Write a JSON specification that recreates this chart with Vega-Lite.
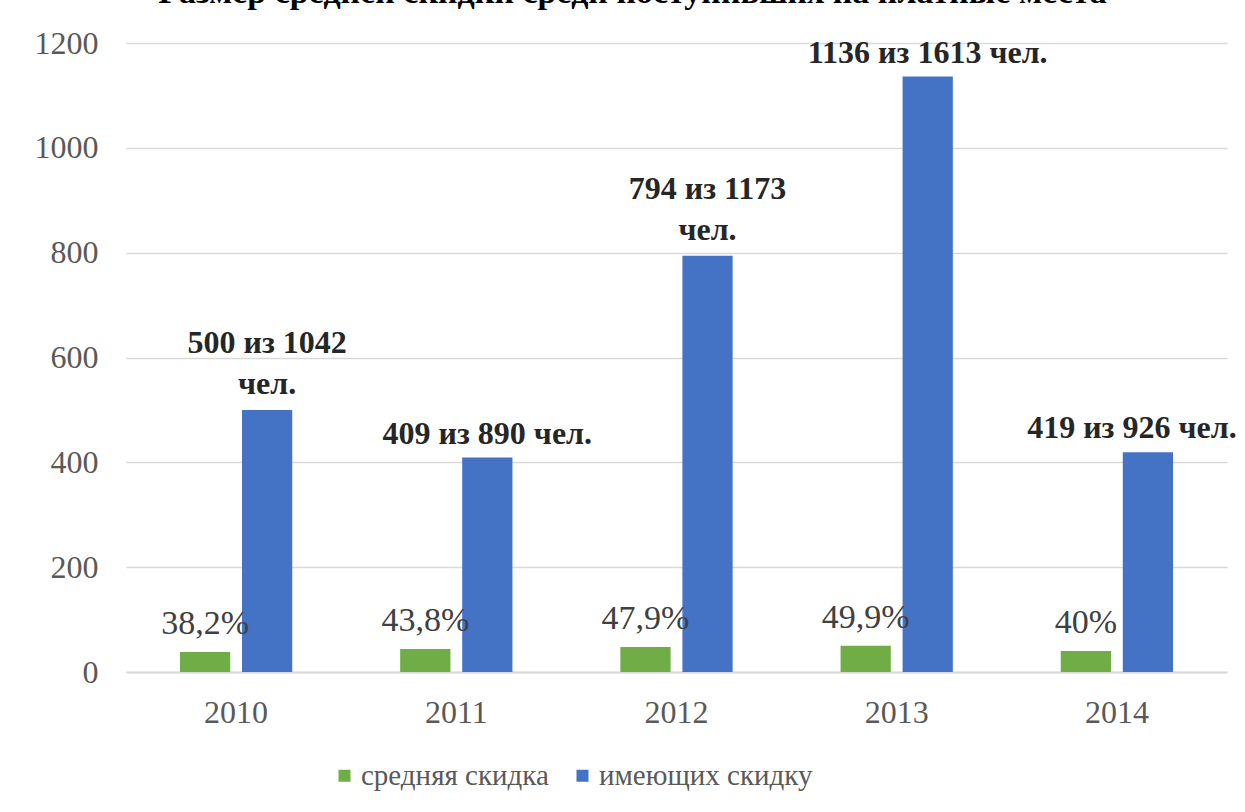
{
  "$schema": "https://vega.github.io/schema/vega-lite/v6.json",
  "width": 1101,
  "height": 629,
  "autosize": "none",
  "padding": {"left": 126, "top": 43, "right": 18, "bottom": 140},
  "background": "white",
  "title": {
    "text": "Размер средней скидки среди поступивших на платные места",
    "font": "Liberation Serif",
    "fontSize": 34,
    "fontWeight": "bold",
    "color": "#000000",
    "anchor": "middle",
    "frame": "group",
    "baseline": "alphabetic",
    "dx": -44,
    "offset": -10
  },
  "config": {
    "view": {"stroke": null},
    "font": "Liberation Serif",
    "axis": {"labelFont": "Liberation Serif", "labelColor": "#595959", "title": null}
  },
  "data": {
    "values": [
      {"year": "2010", "series": "средняя скидка", "value": 38.2, "label": "38,2%"},
      {"year": "2011", "series": "средняя скидка", "value": 43.8, "label": "43,8%"},
      {"year": "2012", "series": "средняя скидка", "value": 47.9, "label": "47,9%"},
      {"year": "2013", "series": "средняя скидка", "value": 49.9, "label": "49,9%"},
      {"year": "2014", "series": "средняя скидка", "value": 40, "label": "40%"},
      {"year": "2010", "series": "имеющих скидку", "value": 500, "label": "500 из 1042\nчел."},
      {"year": "2011", "series": "имеющих скидку", "value": 409, "label": "409 из 890 чел."},
      {"year": "2012", "series": "имеющих скидку", "value": 794, "label": "794 из 1173\nчел."},
      {"year": "2013", "series": "имеющих скидку", "value": 1136, "label": "1136 из 1613 чел."},
      {"year": "2014", "series": "имеющих скидку", "value": 419, "label": "419 из 926 чел."}
    ]
  },
  "encoding": {
    "x": {
      "field": "year",
      "type": "nominal",
      "scale": {"paddingInner": 0, "paddingOuter": 0},
      "axis": {
        "labelAngle": 0,
        "labelFontSize": 32,
        "labelPadding": 25,
        "ticks": false,
        "domain": true,
        "domainColor": "#d9d9d9",
        "domainWidth": 2,
        "grid": false
      }
    },
    "xOffset": {
      "field": "series",
      "type": "nominal",
      "scale": {"domain": ["средняя скидка", "имеющих скидку"], "paddingInner": 0.19, "paddingOuter": 0.87}
    },
    "y": {
      "field": "value",
      "type": "quantitative",
      "scale": {"domain": [0, 1200], "nice": false},
      "axis": {
        "values": [0, 200, 400, 600, 800, 1000, 1200],
        "format": "d",
        "labelFontSize": 32,
        "labelPadding": 28,
        "ticks": false,
        "domain": false,
        "grid": true,
        "gridColor": "#d9d9d9",
        "gridWidth": 1.5
      }
    }
  },
  "layer": [
    {
      "mark": {"type": "bar"},
      "encoding": {
        "color": {
          "field": "series",
          "type": "nominal",
          "scale": {"domain": ["средняя скидка", "имеющих скидку"], "range": ["#70ad47", "#4472c4"]},
          "legend": {
            "title": null,
            "orient": "none",
            "direction": "horizontal",
            "legendX": 204,
            "legendY": 718,
            "symbolType": "square",
            "symbolSize": 144,
            "symbolStrokeWidth": 0,
            "labelFont": "Liberation Serif",
            "labelFontSize": 29,
            "labelColor": "#595959",
            "labelOffset": 2,
            "columnPadding": 19,
            "labelLimit": 400
          }
        }
      }
    },
    {
      "transform": [{"filter": "datum.series === 'средняя скидка'"}],
      "mark": {"type": "text", "baseline": "alphabetic", "dy": -18, "fontSize": 34, "color": "#404040", "font": "Liberation Serif"},
      "encoding": {"text": {"field": "label"}}
    },
    {
      "transform": [{"filter": "datum.series === 'имеющих скидку' && datum.year !== '2014' && indexof(datum.label, '\\n') < 0"}],
      "mark": {"type": "text", "baseline": "bottom", "dy": -7, "fontSize": 32, "fontWeight": "bold", "color": "#262626", "font": "Liberation Serif"},
      "encoding": {"text": {"field": "label"}}
    },
    {
      "transform": [{"filter": "datum.series === 'имеющих скидку' && indexof(datum.label, '\\n') >= 0"}],
      "mark": {"type": "text", "baseline": "bottom", "dy": -50, "fontSize": 32, "fontWeight": "bold", "color": "#262626", "font": "Liberation Serif", "lineBreak": "\n", "lineHeight": 41},
      "encoding": {"text": {"field": "label"}}
    },
    {
      "transform": [{"filter": "datum.series === 'имеющих скидку' && datum.year === '2014'"}],
      "mark": {"type": "text", "baseline": "bottom", "dy": -7, "dx": -16, "fontSize": 32, "fontWeight": "bold", "color": "#262626", "font": "Liberation Serif"},
      "encoding": {"text": {"field": "label"}}
    }
  ]
}
